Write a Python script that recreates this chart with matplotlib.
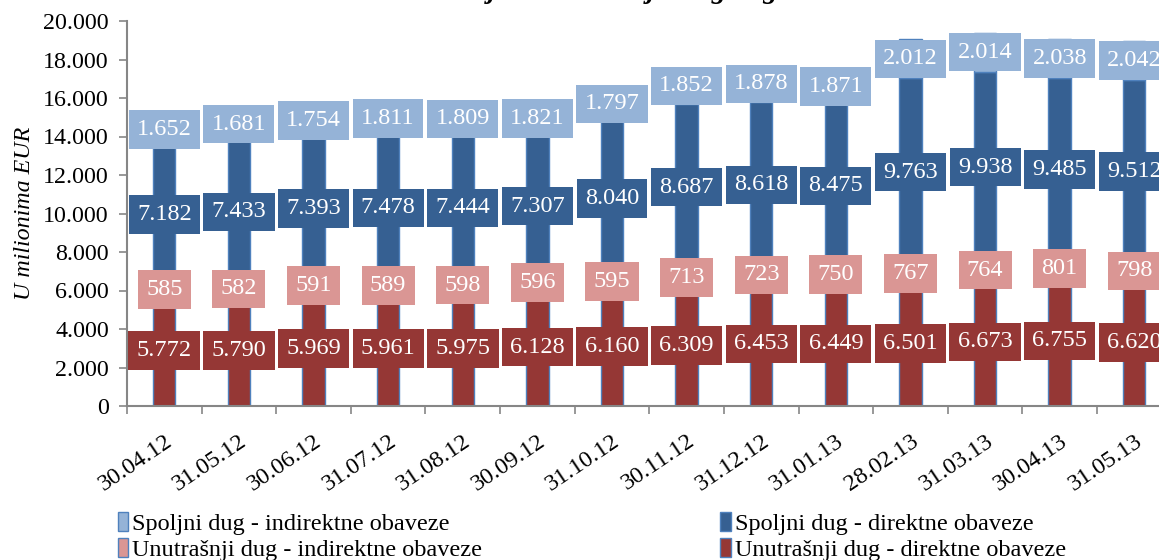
import matplotlib
matplotlib.use("Agg")
import matplotlib.pyplot as plt
from matplotlib.path import Path
from matplotlib.ticker import FuncFormatter, MultipleLocator
import numpy as np

plt.rcParams['font.family'] = ['Liberation Serif', 'DejaVu Serif']

dates = ["30.04.12", "31.05.12", "30.06.12", "31.07.12", "31.08.12", "30.09.12", "31.10.12",
         "30.11.12", "31.12.12", "31.01.13", "28.02.13", "31.03.13", "30.04.13", "31.05.13"]
unutrasnji_direktne = [5772, 5790, 5969, 5961, 5975, 6128, 6160, 6309, 6453, 6449, 6501, 6673, 6755, 6620]
unutrasnji_indirektne = [585, 582, 591, 589, 598, 596, 595, 713, 723, 750, 767, 764, 801, 798]
spoljni_direktne = [7182, 7433, 7393, 7478, 7444, 7307, 8040, 8687, 8618, 8475, 9763, 9938, 9485, 9512]
spoljni_indirektne = [1652, 1681, 1754, 1811, 1809, 1821, 1797, 1852, 1878, 1871, 2012, 2014, 2038, 2042]

series = [
    ("Unutrašnji dug - direktne obaveze", unutrasnji_direktne, "#953735"),
    ("Unutrašnji dug - indirektne obaveze", unutrasnji_indirektne, "#DA9694"),
    ("Spoljni dug - direktne obaveze", spoljni_direktne, "#366092"),
    ("Spoljni dug - indirektne obaveze", spoljni_indirektne, "#95B3D7"),
]


def label_box(x0, y0, width, height, mutation_size):
    # rectangle with separate padding left/right and top/bottom
    px = 0.34 * mutation_size
    py = 0.36 * mutation_size
    x0, y0 = x0 - px, y0 - py
    x1, y1 = x0 + width + 2 * px, y0 + height + 2 * py
    return Path([(x0, y0), (x1, y0), (x1, y1), (x0, y1), (x0, y0)], closed=True)


def fmt(v, pos=None):
    return f"{int(v):,}".replace(",", ".")


fig = plt.figure(figsize=(11.59, 5.6), dpi=100)
ax = fig.add_axes([127 / 1159, 154 / 560, 1044.6 / 1159, 385 / 560])

x = np.arange(len(dates))
bottom = np.zeros(len(dates))
bars = {}
for name, vals, color in series:
    vals = np.array(vals)
    b = ax.bar(x, vals, 0.3, bottom=bottom, color=color, edgecolor="#4F81BD", linewidth=1.0, label=name, zorder=2)
    bars[name] = b
    for xi, bi, v in zip(x, bottom, vals):
        ax.text(xi, bi + v / 2, fmt(v), ha="center", va="center", color="white", fontsize=17.5, zorder=4,
                bbox=dict(boxstyle=label_box, fc=color, ec="none"))
    bottom = bottom + vals

ax.set_xlim(-0.5, len(dates) - 0.5)
ax.set_ylim(0, 20000)
ax.yaxis.set_major_locator(MultipleLocator(2000))
ax.yaxis.set_major_formatter(FuncFormatter(fmt))
ax.set_xticks(x)
ax.set_xticklabels(dates, rotation=34, ha="right", rotation_mode="anchor")
ax.set_xticks(np.arange(-0.5, len(dates), 1), minor=True)
ax.tick_params(axis="x", which="major", length=0, pad=17.5, labelsize=17.3)
ax.tick_params(axis="x", which="minor", length=6, width=1.2, color="#868686", direction="out")
ax.tick_params(axis="y", length=6, width=1.2, color="#868686", pad=7, labelsize=17.3)

for s in ["top", "right"]:
    ax.spines[s].set_visible(False)
for s in ["left", "bottom"]:
    ax.spines[s].set_color("#868686")
    ax.spines[s].set_linewidth(1.5)

ax.set_ylabel("U milionima EUR", fontsize=17.3, style="italic", labelpad=6)

fig.text(0.529, 1.004, "Stanje i struktura javnog duga", ha="center", va="baseline",
         fontsize=20.5, fontweight="bold", style="italic")

order = ["Spoljni dug - indirektne obaveze", "Unutrašnji dug - indirektne obaveze",
         "Spoljni dug - direktne obaveze", "Unutrašnji dug - direktne obaveze"]
fig.legend([bars[n] for n in order], order, ncol=2, loc="upper left", bbox_to_anchor=(0.093, 0.103),
           frameon=False, fontsize=17.5, handlelength=0.45, handleheight=0.8, handletextpad=0.15,
           columnspacing=9.8, labelspacing=0.15, borderaxespad=0)

fig.savefig("out.png", dpi=100)
